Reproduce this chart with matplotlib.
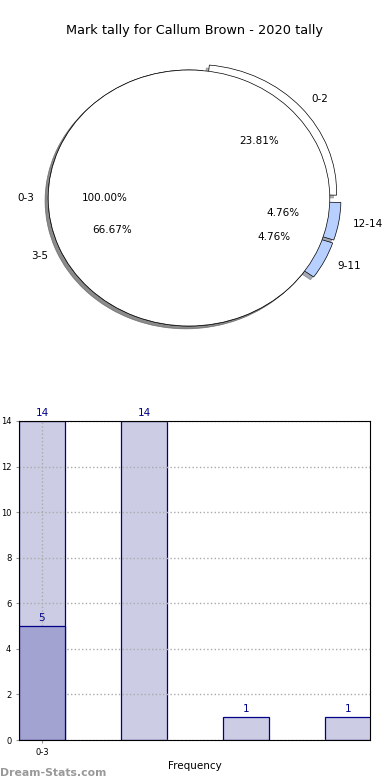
import numpy as np
import matplotlib
matplotlib.use('Agg')
import matplotlib.pyplot as plt

# pie data
inner_labels = ["0-3"]
inner_sizes = [21]
outer_labels = ["0-2", "12-14", "9-11", "3-5"]
outer_sizes = [5, 1, 1, 14]
outer_colors = ["white", "#b8d0ff", "#b8d0ff", "white"]
outer_explode = [0.065, 0.08, 0.08, 0]

# bar data
bar_pos = [0, 1, 2, 3]
bar_heights = [14, 14, 1, 1]
dark_pos = [0]
dark_heights = [5]
tick_labels = ["0-3"]

fig = plt.figure(figsize=(3.9, 7.8), dpi=100)
fig.text(0.5, 0.9615, "Mark tally for Callum Brown - 2020 tally",
         ha='center', va='center', fontsize=9.3)

shadow_kw = {'ox': -0.016, 'oy': -0.016, 'shade': 0.6}

# pie chart
ax1 = fig.add_axes([13/390, 1 - 358/780, 352/390, 320/780])
ax1.pie(outer_sizes, labels=outer_labels, colors=outer_colors, explode=outer_explode,
        autopct='%.2f%%', startangle=84.5, counterclock=False, shadow=shadow_kw,
        wedgeprops={'edgecolor': 'black', 'linewidth': 0.5},
        textprops={'fontsize': 7.5})
ax1.pie(inner_sizes, labels=inner_labels, colors=["white"], autopct='%.2f%%',
        shadow=shadow_kw, wedgeprops={'edgecolor': 'black', 'linewidth': 0.5},
        textprops={'fontsize': 7.5})
ax1.set_aspect('auto')
ax1.set_xlim(-1.25, 1.25)
ax1.set_ylim(-1.25, 1.25)
ax1.axis('off')

# bar chart
ax2 = fig.add_axes([19/390, 1 - 740/780, 351/390, 319/780])
bars = ax2.bar(bar_pos, bar_heights, width=0.45, align='edge',
               color='#ccccE5', edgecolor='#00008b', linewidth=0.9, zorder=2)
dbars = ax2.bar(dark_pos, dark_heights, width=0.45, align='edge',
                color='#a3a3d1', edgecolor='#00008b', linewidth=0.9, zorder=3)
for b in list(bars) + list(dbars):
    ax2.text(b.get_x() + b.get_width()/2, b.get_height() + 0.15, str(int(b.get_height())),
             ha='center', va='bottom', color='#00008b', fontsize=7.5)
ax2.set_xlim(0, 3.44)
ax2.set_ylim(0, 14)
ax2.set_yticks(range(0, 15, 2))
ax2.set_xticks([0.225])
ax2.set_xticklabels(tick_labels)
ax2.tick_params(labelsize=6, length=2, color='#999999')
ax2.set_axisbelow(False)
ax2.grid(True, linestyle=':', color='#aaaaaa', linewidth=1)
for s in ax2.spines.values():
    s.set_zorder(6)
ax2.set_xlabel("Frequency", fontsize=7.5, labelpad=3)
ax2.set_ylabel("Dist. Mark Tally", fontsize=7, labelpad=3)

fig.text(0.0, 0.003, "Dream-Stats.com", color='#999999', fontsize=7.8,
         fontweight='bold', ha='left', va='bottom')

fig.savefig("out.png", dpi=100)
